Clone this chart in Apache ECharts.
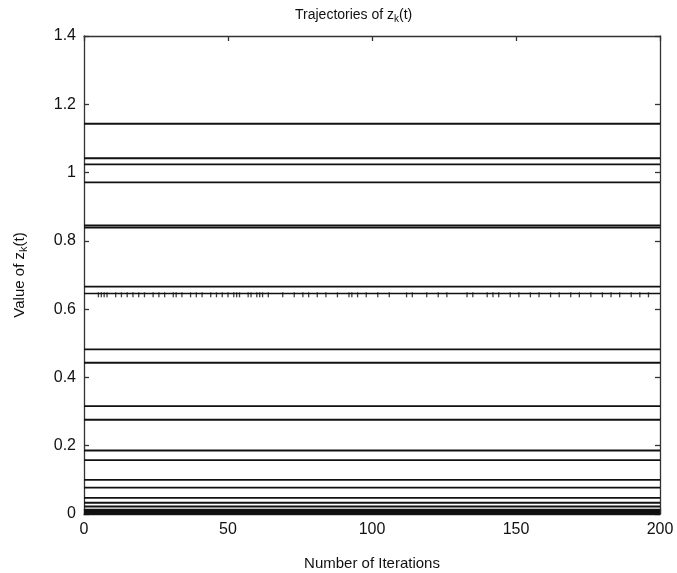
<!DOCTYPE html>
<html><head><meta charset="utf-8">
<script src="https://cdn.jsdelivr.net/npm/echarts@6/dist/echarts.min.js"></script>
<style>html,body{margin:0;padding:0;background:#fff}#c{width:677px;height:573px}</style>
</head><body><div id="c"></div>
<script>
// Final (constant) values of each trajectory z_k(t)
const trajectoryValues = [1.143, 1.042, 1.024, 0.971, 0.845, 0.839, 0.666, 0.482, 0.443,
  0.316, 0.276, 0.186, 0.158, 0.100, 0.077, 0.047, 0.033, 0.022, 0.013,
  0.009, 0.007, 0.006, 0.005, 0.004, 0.003, 0.002, 0.001, 0.0005];
// The slightly oscillating trajectory near 0.646 and the iterations where it dips
const oscBase = 0.646;
const oscDip = 0.642;
const dipIters = [5, 6, 7, 8, 11, 13, 15, 17, 19, 21, 24, 26, 28, 31, 32, 34, 37, 39, 41, 44, 46, 48, 50,
  52, 53, 54, 57, 58, 60, 61, 62, 64, 69, 73, 76, 78, 81, 84, 88, 92, 93, 95, 98, 102, 106, 112, 114, 119,
  123, 126, 133, 135, 140, 142, 144, 148, 151, 155, 158, 162, 165, 169, 172, 176, 180, 183, 186, 190, 193, 196];
const iterRange = [0, 200];
const xTicks = [0, 50, 100, 150, 200];
const yTicks = [0, 0.2, 0.4, 0.6, 0.8, 1, 1.2, 1.4];

const font = 'Liberation Sans, Arial, Helvetica, sans-serif';
const ink = '#111';
const series = trajectoryValues.map(v => ({
  type: 'line', showSymbol: false, silent: true, animation: false,
  data: [[iterRange[0], v], [iterRange[1], v]],
  lineStyle: { color: ink, width: 1.8 }
}));
series.push({
  type: 'line', showSymbol: false, silent: true, animation: false,
  data: [[iterRange[0], oscBase], [iterRange[1], oscBase]],
  lineStyle: { color: ink, width: 1.4 }
});
series.push({
  type: 'scatter', silent: true, animation: false,
  symbol: 'rect', symbolSize: [1.3, 5],
  itemStyle: { color: ink },
  data: dipIters.map(t => [t, oscDip])
});

const axisCommon = {
  type: 'value',
  axisLine: { show: true, onZero: false, lineStyle: { color: '#333', width: 1.3 } },
  axisTick: { show: true, inside: true, length: 5, lineStyle: { color: '#333', width: 1.3 } },
  splitLine: { show: false }
};
const chart = echarts.init(document.getElementById('c'), null, { renderer: 'canvas' });
chart.setOption({
  backgroundColor: '#fff',
  animation: false,
  title: {
    text: 'Trajectories of z{s|k}(t)',
    left: 290, top: 3,
    textStyle: { fontFamily: font, fontSize: 14, fontWeight: 'normal', color: ink,
      rich: { s: { fontFamily: font, fontSize: 10, color: ink, padding: [0,0,-8,0] } } }
  },
  grid: { left: 84, right: 17, top: 36, bottom: 59, outerBoundsMode: 'none', containLabel: false },
  xAxis: [
    Object.assign({}, axisCommon, {
      min: iterRange[0], max: iterRange[1], interval: 50, position: 'bottom',
      axisLabel: { fontFamily: font, fontSize: 16, color: ink, margin: 8 },
      name: 'Number of Iterations', nameLocation: 'middle', nameGap: 42,
      nameTextStyle: { fontFamily: font, fontSize: 15, color: ink }
    }),
    Object.assign({}, axisCommon, {
      min: iterRange[0], max: iterRange[1], interval: 50, position: 'top',
      axisLabel: { show: false }
    })
  ],
  yAxis: [
    Object.assign({}, axisCommon, {
      min: yTicks[0], max: yTicks[yTicks.length - 1], interval: 0.2, position: 'left',
      axisLabel: { fontFamily: font, fontSize: 16, color: ink, margin: 8 },
      name: 'Value of z{s|k}(t)', nameLocation: 'middle', nameGap: 57, nameRotate: 90,
      nameTextStyle: { fontFamily: font, fontSize: 15, color: ink,
        rich: { s: { fontFamily: font, fontSize: 11, color: ink, padding: [0,0,-8,0] } } }
    }),
    Object.assign({}, axisCommon, {
      min: yTicks[0], max: yTicks[yTicks.length - 1], interval: 0.2, position: 'right',
      axisLabel: { show: false }
    })
  ],
  series: series
});
</script></body></html>
